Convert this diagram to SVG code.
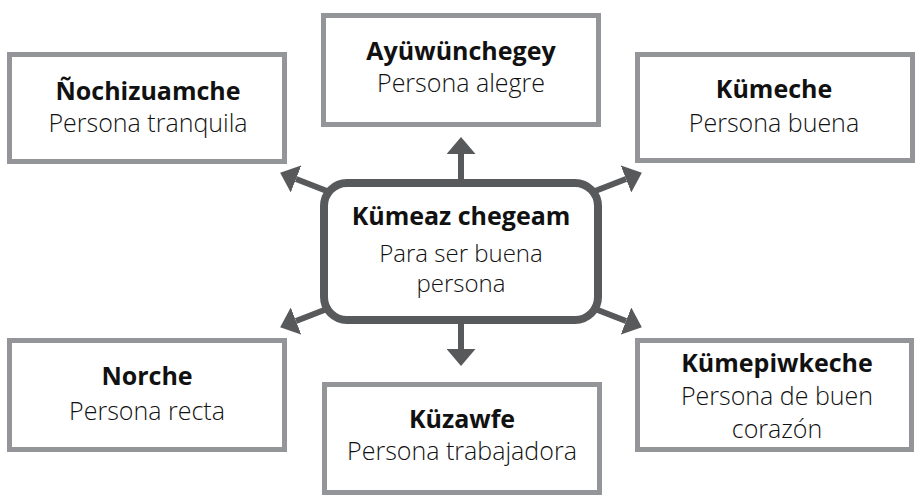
<svg xmlns="http://www.w3.org/2000/svg" width="921" height="501" viewBox="0 0 921 501">
<style>
.box{fill:#fff;stroke:#939598;stroke-width:5}
.hub{fill:#fff;stroke:#58595b;stroke-width:8}
.t{font-family:"Open Sans","Noto Sans","Liberation Sans",sans-serif;fill:#111;text-anchor:middle}
.b{font-weight:700;font-size:25px}
.r{font-weight:300;font-size:25px}
.cb{font-weight:700;font-size:25px}
.cr{font-weight:300;font-size:24px}
.arr{stroke:#58595b;stroke-width:6;fill:none;marker-end:url(#ah)}
</style>
<defs>
<marker id="ah" viewBox="0 0 17 29" markerWidth="17" markerHeight="29" refX="0" refY="14.5" orient="auto" markerUnits="userSpaceOnUse">
<path d="M0,0 L17,14.5 L0,29 z" fill="#58595b"/>
</marker>
</defs>
<rect width="921" height="501" fill="#fff"/>
<g id="connectors">
<line class="arr" x1="461" y1="185" x2="461" y2="154"/>
<line class="arr" x1="461" y1="318" x2="461" y2="349"/>
<line class="arr" x1="332" y1="193" x2="296" y2="179"/>
<line class="arr" x1="590" y1="193" x2="626" y2="179"/>
<line class="arr" x1="332" y1="307" x2="296" y2="321"/>
<line class="arr" x1="590" y1="307" x2="626" y2="321"/>
</g>
<g id="n-ochizuamche">
<rect class="box" x="9.5" y="54.5" width="275" height="107"/>
<text class="t b" x="148" y="100">Ñochizuamche</text>
<text class="t r" x="148" y="132">Persona tranquila</text>
</g>
<g id="n-ayuwunchegey">
<rect class="box" x="323.5" y="15.5" width="275" height="109"/>
<text class="t b" x="461" y="60">Ayüwünchegey</text>
<text class="t r" x="461" y="92">Persona alegre</text>
</g>
<g id="n-kumeche">
<rect class="box" x="637.5" y="54.5" width="275" height="106"/>
<text class="t b" x="774" y="98">Kümeche</text>
<text class="t r" x="774" y="132">Persona buena</text>
</g>
<g id="n-norche">
<rect class="box" x="9.5" y="340.5" width="275" height="109"/>
<text class="t b" x="147" y="385">Norche</text>
<text class="t r" x="147" y="420">Persona recta</text>
</g>
<g id="n-kuzawfe">
<rect class="box" x="324.5" y="384.5" width="275" height="108"/>
<text class="t b" x="462" y="428">Küzawfe</text>
<text class="t r" x="462" y="460">Persona trabajadora</text>
</g>
<g id="n-kumepiwkeche">
<rect class="box" x="637.5" y="340.5" width="274" height="109"/>
<text class="t b" x="777" y="372">Kümepiwkeche</text>
<text class="t r" x="777" y="405">Persona de buen</text>
<text class="t r" x="777" y="438">corazón</text>
</g>
<g id="n-center">
<rect class="hub" x="324" y="183" width="274" height="137" rx="23" ry="23"/>
<text class="t cb" x="461" y="225">Kümeaz chegeam</text>
<text class="t cr" x="461" y="262">Para ser buena</text>
<text class="t cr" x="461" y="292">persona</text>
</g>
</svg>
